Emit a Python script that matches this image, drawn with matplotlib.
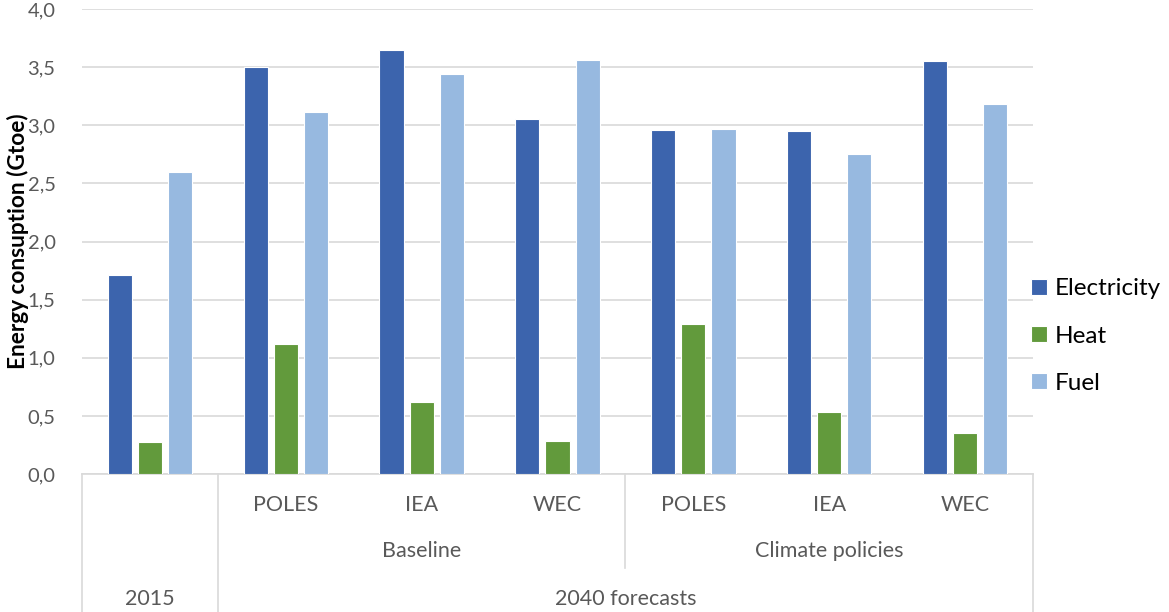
import matplotlib
matplotlib.use("Agg")
import matplotlib.pyplot as plt
import numpy as np
from matplotlib.ticker import FuncFormatter, MultipleLocator
from matplotlib.lines import Line2D

# Data
scenarios = ["", "POLES", "IEA", "WEC", "POLES", "IEA", "WEC"]
pathways = ["Baseline", "Climate policies"]
periods = ["2015", "2040 forecasts"]
series_names = ["Electricity", "Heat", "Fuel"]
electricity = [1.71, 3.50, 3.65, 3.05, 2.96, 2.95, 3.55]
heat = [0.275, 1.12, 0.62, 0.28, 1.29, 0.53, 0.35]
fuel = [2.60, 3.11, 3.44, 3.56, 2.97, 2.75, 3.18]
colors = ["#3c64ad", "#629a3c", "#97b9e0"]

W, H = 1169, 612
fig = plt.figure(figsize=(W / 100, H / 100), dpi=100)
ax_l, ax_r, ax_b, ax_t = 82, 1033, 474, 9
ax = fig.add_axes([ax_l / W, 1 - ax_b / H, (ax_r - ax_l) / W, (ax_b - ax_t) / H])

font = "Lato"
grey_txt = "#595959"
grid_c = "#d9d9d9"
cat_size = 15.5

x = np.arange(len(scenarios))
bw = 0.177
step = 0.222
for i, (vals, c, name) in enumerate(zip([electricity, heat, fuel], colors, series_names)):
    ax.bar(x + (i - 1) * step, vals, width=bw, color=c, edgecolor="white",
           linewidth=0.8, label=name, zorder=3)

ax.set_xlim(-0.5, len(scenarios) - 0.5)
ax.set_ylim(0, 4.0)
ax.yaxis.set_major_locator(MultipleLocator(0.5))
ax.yaxis.set_major_formatter(FuncFormatter(lambda v, p: f"{v:.1f}".replace(".", ",")))
ax.grid(axis="y", color=grid_c, linewidth=1.2, zorder=0)
ax.set_axisbelow(True)
for s in ["top", "right", "left"]:
    ax.spines[s].set_visible(False)
ax.spines["bottom"].set_color(grid_c)
ax.spines["bottom"].set_linewidth(1.2)
ax.tick_params(axis="y", length=0, pad=19, labelsize=14.5, labelcolor=grey_txt)
ax.tick_params(axis="x", length=0, labelbottom=False)
for lbl in ax.get_yticklabels():
    lbl.set_fontfamily(font)


def fx(px):
    return px / W


def fy(py):
    return 1 - py / H


fig.text(fx(18), fy(241.5), "Energy consuption (Gtoe)", rotation=90,
         ha="center", va="center", fontsize=16.3, fontweight="bold",
         fontfamily=font, color="black")

# Multi-level category axis
for px_x, y_end in [(82, 612), (218, 612), (625, 568), (1033, 612)]:
    fig.add_artist(Line2D([fx(px_x), fx(px_x)], [fy(474), fy(y_end)],
                          transform=fig.transFigure, color=grid_c, linewidth=1.2))


def data_to_fig(xv):
    return ax.transData.transform((xv, 0))[0] / W


for i, lab in enumerate(scenarios):
    if lab:
        fig.text(data_to_fig(i), fy(505), lab, ha="center", va="center",
                 fontsize=cat_size, color=grey_txt, fontfamily=font)

fig.text(data_to_fig(2), fy(551), pathways[0], ha="center", va="center",
         fontsize=cat_size, color=grey_txt, fontfamily=font)
fig.text(data_to_fig(5), fy(551), pathways[1], ha="center", va="center",
         fontsize=cat_size, color=grey_txt, fontfamily=font)
fig.text(data_to_fig(0), fy(599), periods[0], ha="center", va="center",
         fontsize=cat_size, color=grey_txt, fontfamily=font)
fig.text(data_to_fig(3.5), fy(599), periods[1], ha="center", va="center",
         fontsize=cat_size, color=grey_txt, fontfamily=font)

fig.legend(loc="center left", bbox_to_anchor=(fx(1009), fy(336)),
           frameon=False, prop={"family": font, "size": 17.5},
           handlelength=0.65, handleheight=0.65, handletextpad=0.35,
           labelspacing=1.08)

fig.savefig("out.png", dpi=100)
